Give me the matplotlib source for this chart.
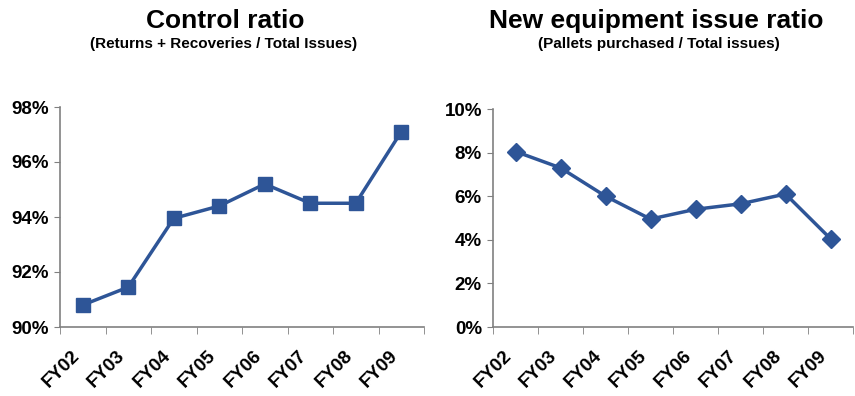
import matplotlib.pyplot as plt
from matplotlib.ticker import FuncFormatter, FixedLocator
from matplotlib.transforms import ScaledTranslation

plt.rcParams['font.family'] = ['Liberation Sans', 'DejaVu Sans']

years = ['FY02', 'FY03', 'FY04', 'FY05', 'FY06', 'FY07', 'FY08', 'FY09']
control_ratio = [90.8, 91.45, 93.95, 94.4, 95.2, 94.5, 94.5, 97.1]
new_equipment_ratio = [8.05, 7.3, 6.0, 4.95, 5.4, 5.65, 6.1, 4.05]

blue = '#2E5597'
grey = '#808080'


def style_axis(ax, yticks):
    n = len(years)
    ax.set_xlim(-0.5, n - 0.5)
    ax.set_xticks(range(n))
    ax.tick_params(axis='x', which='major', length=0, labelbottom=False)
    # rotated category labels, placed under each category centre
    shift = ScaledTranslation(-0.12, -0.205, fig.dpi_scale_trans)
    for i, yr in enumerate(years):
        ax.text(i, 0, yr, transform=ax.get_xaxis_transform() + shift,
                rotation=45, ha='right', va='top', rotation_mode='anchor',
                fontsize=13.5, fontweight='bold')
    ax.xaxis.set_minor_locator(FixedLocator([i - 0.5 for i in range(n + 1)]))
    ax.tick_params(axis='x', which='minor', length=5, color=grey, direction='out')
    ax.set_yticks(yticks)
    ax.yaxis.set_major_formatter(FuncFormatter(lambda v, p: '%d%%' % round(v)))
    ax.tick_params(axis='y', length=4, color=grey, labelsize=13.5, pad=4)
    for lab in ax.get_yticklabels():
        lab.set_fontweight('bold')
    for s in ['top', 'right']:
        ax.spines[s].set_visible(False)
    for s in ['left', 'bottom']:
        ax.spines[s].set_color(grey)
        ax.spines[s].set_linewidth(1.2)


fig = plt.figure(figsize=(8.55, 3.96), dpi=100)

ax1 = fig.add_axes([60 / 855, 1 - 327 / 396, 364 / 855, 220 / 396])
ax1.plot(range(len(years)), control_ratio, color=blue, lw=2.5,
         marker='s', markersize=10)
ax1.set_ylim(90, 98)
style_axis(ax1, [90, 92, 94, 96, 98])

ax2 = fig.add_axes([493 / 855, 1 - 327 / 396, 360 / 855, 218 / 396])
ax2.plot(range(len(years)), new_equipment_ratio, color=blue, lw=2.5,
         marker='D', markersize=9)
ax2.set_ylim(0, 10)
style_axis(ax2, [0, 2, 4, 6, 8, 10])

fig.text(225 / 855, 1 - 28 / 396, 'Control ratio', ha='center', va='baseline',
         fontsize=19, fontweight='bold')
fig.text(224 / 855, 1 - 48 / 396, '(Returns + Recoveries / Total Issues)',
         ha='center', va='baseline', fontsize=11, fontweight='bold')
fig.text(656 / 855, 1 - 28 / 396, 'New equipment issue ratio', ha='center',
         va='baseline', fontsize=19, fontweight='bold')
fig.text(659 / 855, 1 - 48 / 396, '(Pallets purchased / Total issues)',
         ha='center', va='baseline', fontsize=11, fontweight='bold')

fig.savefig('out.png', dpi=100)
